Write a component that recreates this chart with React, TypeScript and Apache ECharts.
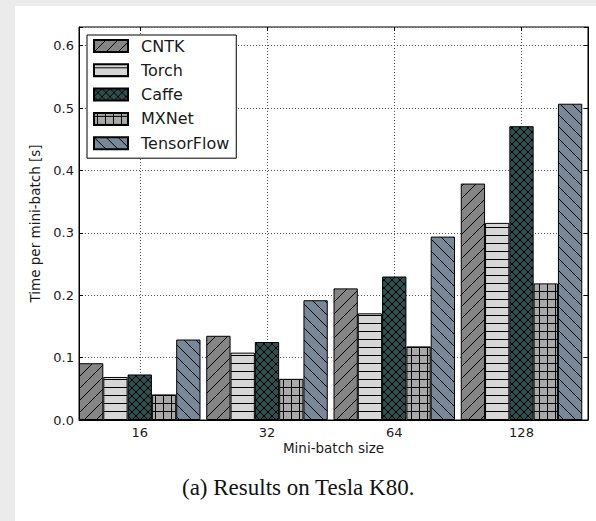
import React, { useEffect, useRef } from "react";
import * as echarts from "echarts";

const categories = ["16", "32", "64", "128"];
const seriesNames = ["CNTK", "Torch", "Caffe", "MXNet", "TensorFlow"];
const cntk = [0.091, 0.135, 0.211, 0.379];
const torch = [0.069, 0.108, 0.171, 0.316];
const caffe = [0.073, 0.125, 0.23, 0.471];
const mxnet = [0.041, 0.066, 0.118, 0.219];
const tensorflow = [0.129, 0.192, 0.294, 0.507];
const yTicks = [0, 0.1, 0.2, 0.3, 0.4, 0.5, 0.6];

const fills = ["#858585", "#d6d6d6", "#2f4f4f", "#a9a9a9", "#778899"];
const hatchKinds = ["fwd", "h", "x", "plus", "back"];
const hatchSizes = [12, 8, 8, 8, 12];

function makeHatch(bg: string, kind: string, s: number) {
  const c = document.createElement("canvas");
  c.width = s;
  c.height = s;
  const ctx = c.getContext("2d")!;
  ctx.fillStyle = bg;
  ctx.fillRect(0, 0, s, s);
  ctx.strokeStyle = "#000";
  ctx.lineWidth = 1;
  ctx.beginPath();
  const fwd = () => {
    ctx.moveTo(0, s);
    ctx.lineTo(s, 0);
    ctx.moveTo(-2, 2);
    ctx.lineTo(2, -2);
    ctx.moveTo(s - 2, s + 2);
    ctx.lineTo(s + 2, s - 2);
  };
  const back = () => {
    ctx.moveTo(0, 0);
    ctx.lineTo(s, s);
    ctx.moveTo(-2, s - 2);
    ctx.lineTo(2, s + 2);
    ctx.moveTo(s - 2, -2);
    ctx.lineTo(s + 2, 2);
  };
  if (kind === "fwd") fwd();
  if (kind === "back") back();
  if (kind === "x") {
    fwd();
    back();
  }
  if (kind === "h" || kind === "plus") {
    ctx.moveTo(0, s / 2 - 0.5);
    ctx.lineTo(s, s / 2 - 0.5);
  }
  if (kind === "plus") {
    ctx.moveTo(s / 2 - 0.5, 0);
    ctx.lineTo(s / 2 - 0.5, s);
  }
  ctx.stroke();
  return {
    image: c.toDataURL(),
    repeat: "repeat",
    imageWidth: s,
    imageHeight: s,
  };
}

export default function App() {
  const ref = useRef<HTMLDivElement>(null);
  useEffect(() => {
    if (!ref.current) return;
    const chart = echarts.init(ref.current, null, { renderer: "svg" });
    const values = [cntk, torch, caffe, mxnet, tensorflow];
    const font = "DejaVu Sans";
    const band = 509 / 4;
    const barW = 24.3;
    const spare = band - 5 * barW;
    const series: any[] = values.map((vals, i) => ({
      name: seriesNames[i],
      type: "bar",
      xAxisIndex: 0,
      yAxisIndex: 0,
      data: vals,
      barWidth: barW,
      barGap: "0%",
      barCategoryGap: "0%",
      itemStyle: {
        color: makeHatch(fills[i], hatchKinds[i], hatchSizes[i]),
        borderColor: "#000",
        borderWidth: 1,
      },
    }));
    series.push({
      name: "spacer",
      type: "bar",
      xAxisIndex: 0,
      yAxisIndex: 0,
      data: categories.map(() => null),
      barWidth: spare,
      barGap: "0%",
      barCategoryGap: "0%",
      itemStyle: { color: "transparent" },
    });
    const dotted = { color: "#555", width: 1, type: [1, 2] as any };
    chart.setOption({
      animation: false,
      textStyle: { fontFamily: font },
      grid: [
        { left: 79, top: 27, width: 509, height: 393, show: true, borderColor: "#000", borderWidth: 1, backgroundColor: "#fff" },
        { left: 79 - spare / 2, top: 27, width: 509, height: 393 },
      ],
      legend: {
        data: seriesNames,
        orient: "vertical",
        left: 87,
        top: 35,
        icon: "rect",
        itemWidth: 34,
        itemHeight: 12,
        itemGap: 8.3,
        padding: [3, 7, 7, 6],
        borderColor: "#000",
        borderWidth: 1,
        backgroundColor: "#fff",
        textStyle: { fontSize: 16, color: "#1a1a1a", fontFamily: font, padding: [0, 0, 0, 8] },
      },
      xAxis: [
        {
          type: "category",
          gridIndex: 0,
          data: categories,
          axisLabel: { show: false },
          axisTick: { show: false },
          axisLine: { show: true, lineStyle: { color: "#000" } },
          name: "Mini-batch size",
          nameLocation: "middle",
          nameGap: 21,
          nameTextStyle: { fontSize: 13.5, color: "#1a1a1a", fontFamily: font },
          z: 5,
        },
        {
          type: "category",
          gridIndex: 1,
          position: "bottom",
          data: categories,
          axisLine: { show: false },
          axisTick: { show: true, inside: true, alignWithLabel: true, length: 4, lineStyle: { color: "#000" } },
          axisLabel: { show: true, fontSize: 13, color: "#1a1a1a", margin: 6, fontFamily: font },
          splitLine: { show: true, alignWithLabel: true, lineStyle: dotted } as any,
        },
        {
          type: "category",
          gridIndex: 1,
          position: "top",
          data: categories,
          axisLine: { show: false },
          axisTick: { show: true, inside: true, alignWithLabel: true, length: 4, lineStyle: { color: "#000" } },
          axisLabel: { show: false },
        },
      ],
      yAxis: [
        {
          type: "value",
          gridIndex: 0,
          position: "left",
          min: 0,
          max: 0.63,
          interval: 0.1,
          axisLine: { show: true, lineStyle: { color: "#000" } },
          axisTick: { show: true, inside: true, length: 4, lineStyle: { color: "#000" } },
          axisLabel: {
            fontSize: 13,
            color: "#1a1a1a",
            margin: 5,
            fontFamily: font,
            formatter: (v: number) =>
              yTicks.some((t) => Math.abs(t - v) < 1e-6) ? v.toFixed(1) : "",
          },
          splitLine: { show: true, lineStyle: dotted },
          name: "Time per mini-batch [s]",
          nameLocation: "middle",
          nameGap: 31,
          nameTextStyle: { fontSize: 13.5, color: "#1a1a1a", fontFamily: font },
        },
        {
          type: "value",
          gridIndex: 0,
          position: "right",
          min: 0,
          max: 0.63,
          interval: 0.1,
          axisLine: { show: true, lineStyle: { color: "#000" } },
          axisTick: { show: true, inside: true, length: 4, lineStyle: { color: "#000" } },
          axisLabel: { show: false },
          splitLine: { show: false },
        },
        {
          type: "value",
          gridIndex: 1,
          min: 0,
          max: 1,
          show: false,
        },
      ],
      series,
      graphic: [
        {
          type: "text",
          left: 182,
          top: 476,
          style: {
            text: "(a) Results on Tesla K80.",
            font: '23px "Liberation Serif"',
            fill: "#111",
          },
        },
      ],
    });
    return () => chart.dispose();
  }, []);
  return (
    <div style={{ position: "fixed", left: 0, top: 0, width: 596, height: 521, background: "#ebebeb" }}>
      <div style={{ position: "absolute", left: 15, top: 6, right: 0, bottom: 0, background: "#fff" }} />
      <div ref={ref} style={{ position: "absolute", left: 0, top: 0, width: 596, height: 521 }} />
    </div>
  );
}
